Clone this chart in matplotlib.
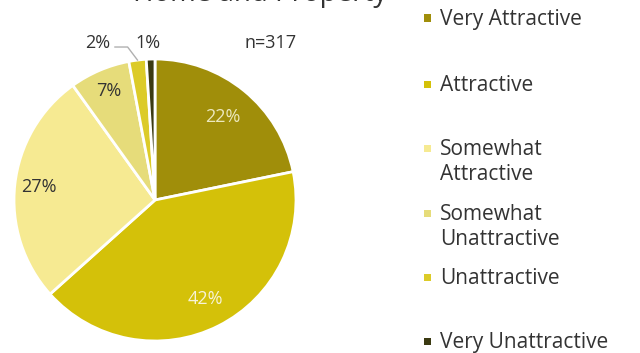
import matplotlib
matplotlib.use("Agg")
import numpy as np
import matplotlib.pyplot as plt
import matplotlib.patches as mpatches

plt.rcParams['font.family'] = ['Open Sans', 'DejaVu Sans']

# survey responses, n=317
categories = ['Very Attractive', 'Attractive', 'Somewhat\nAttractive',
              'Somewhat\nUnattractive', 'Unattractive', 'Very Unattractive']
shares = [22, 42, 27, 7, 2, 1]
colors = ['#a08e0a', '#d4c109', '#f6ea92', '#e6dc7a', '#dccb28', '#3b3a12']
label_colors = ['#ece8be', '#f7f3d8', '#333333', '#333333']
label_radius = [0.76, 0.79, 0.83, 0.84]
legend_rows = [18, 84, 148, 213, 277, 341]   # pixel rows of the legend entries

W, H = 640, 353
fig = plt.figure(figsize=(W / 100, H / 100), dpi=100)
ax = fig.add_axes([14 / W, 1 - 341 / H, 282 / W, 282 / H])

wedges, _ = ax.pie(shares, colors=colors, startangle=90, counterclock=False,
                   wedgeprops=dict(edgecolor='white', linewidth=2))
ax.set_xlim(-1, 1)
ax.set_ylim(-1, 1)
ax.set_aspect('equal')


def mid_angle(w):
    return np.deg2rad((w.theta1 + w.theta2) / 2)


# percentage labels inside the larger slices
for i, r in enumerate(label_radius):
    a = mid_angle(wedges[i])
    ax.text(r * np.cos(a), r * np.sin(a), f'{shares[i]}%',
            ha='center', va='center', fontsize=13, color=label_colors[i])

# the two thin slices are labelled above the pie
a = mid_angle(wedges[4])
px, py = 1.0 * np.cos(a), 1.0 * np.sin(a)
ax.plot([px, px - 0.07, px - 0.16], [py, 1.085, 1.085], color='#b0b0b0',
        lw=1, clip_on=False)
ax.text(px - 0.19, 1.11, f'{shares[4]}%', ha='right', va='center',
        fontsize=13, color='#333333')
a = mid_angle(wedges[5])
ax.text(np.cos(a) - 0.02, 1.11, f'{shares[5]}%', ha='center', va='center',
        fontsize=13, color='#333333')

ax.text(0.82, 1.11, 'n=317', ha='center', va='center', fontsize=13,
        color='#333333')

fig.text(260 / W, 1 - 1 / H, 'Home and Property', ha='center',
         va='baseline', fontsize=20, color='#333333')

# legend on the right, one text per line so the marker sits on the first
for cat, col, row in zip(categories, colors, legend_rows):
    y = 1 - row / H
    fig.patches.append(mpatches.Rectangle((424 / W, y - 3.5 / H), 7 / W, 7 / H,
                                          facecolor=col, edgecolor='none',
                                          transform=fig.transFigure))
    for j, line in enumerate(cat.split('\n')):
        fig.text(440 / W, y - (7 + 25 * j) / H, line, ha='left',
                 va='baseline', fontsize=15, color='#333333')

fig.savefig('out.png', dpi=100)
